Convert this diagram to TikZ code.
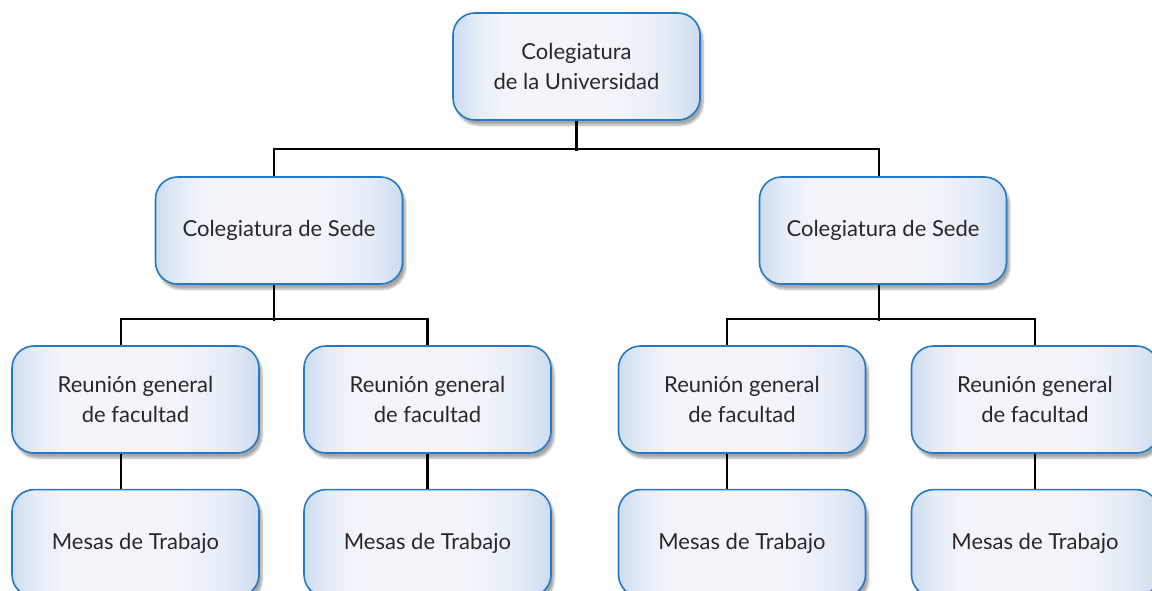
\documentclass[tikz,border=0pt]{standalone}
\usepackage{fontspec}
\setmainfont{Lato}
\usetikzlibrary{positioning,shadows.blur}
\definecolor{boxline}{HTML}{2479C6}
\definecolor{boxedge}{HTML}{CDDCF0}
\definecolor{boxsoft}{HTML}{E6EDF7}
\definecolor{boxmid}{HTML}{F3F5FB}
\definecolor{inktext}{HTML}{2A2729}
\pgfdeclarehorizontalshading{boxshade}{100bp}{color(0bp)=(boxedge); color(25bp)=(boxedge); color(30bp)=(boxsoft); color(36bp)=(boxmid); color(58bp)=(boxmid); color(68bp)=(boxsoft); color(75bp)=(boxedge); color(100bp)=(boxedge)}
\tikzset{
  unit/.style={draw=boxline,line width=1.6pt,rounded corners=22pt,
    minimum width=247pt,minimum height=107pt,align=center,
    shading=boxshade,
    text=inktext,font=\fontsize{22}{30}\selectfont,
    blur shadow={shadow xshift=3pt,shadow yshift=-5pt,shadow opacity=35,shadow blur steps=6}},
  link/.style={draw=black,line width=2.5pt,line join=miter}
}

\begin{document}
\begin{tikzpicture}[x=1pt,y=-1pt,node distance=35pt]
  \useasboundingbox (0,0) rectangle (1152,591);
  % level 1
  \node[unit] (top) at (576.5,66.5) {Colegiatura\\de la Universidad};
  % level 2
  \node[unit] (sa) at (279,230.5) {Colegiatura de Sede};
  \node[unit] (sb) at (883,230.5) {Colegiatura de Sede};
  % level 3
  \node[unit] (ra) at (135.5,399.5) {Reunión general\\de facultad};
  \node[unit] (rb) at (427.5,399.5) {Reunión general\\de facultad};
  \node[unit] (rc) at (742,399.5) {Reunión general\\de facultad};
  \node[unit] (rd) at (1035,399.5) {Reunión general\\de facultad};
  % level 4
  \node[unit] (ma) [below=of ra] {Mesas de Trabajo};
  \node[unit] (mb) [below=of rb] {Mesas de Trabajo};
  \node[unit] (mc) [below=of rc] {Mesas de Trabajo};
  \node[unit] (md) [below=of rd] {Mesas de Trabajo};

  \draw[link] (top.south) -- ++(0,30);
  \draw[link] ([xshift=-5pt]sa.north) -- ++(0,-27) -| ([xshift=-4pt]sb.north);
  \draw[link] ([xshift=-5pt]sa.south) -- ++(0,36);
  \draw[link] ([xshift=-14.5pt]ra.north) -- ++(0,-26) -| (rb.north);
  \draw[link] ([xshift=-4pt]sb.south) -- ++(0,36);
  \draw[link] ([xshift=-15pt]rc.north) -- ++(0,-26) -| (rd.north);
  \draw[link] ([xshift=-14.5pt]ra.south) -- ([xshift=-14.5pt]ma.north);
  \draw[link] (rb.south) -- (mb.north);
  \draw[link] ([xshift=-15pt]rc.south) -- ([xshift=-15pt]mc.north);
  \draw[link] (rd.south) -- (md.north);
\end{tikzpicture}
\end{document}
